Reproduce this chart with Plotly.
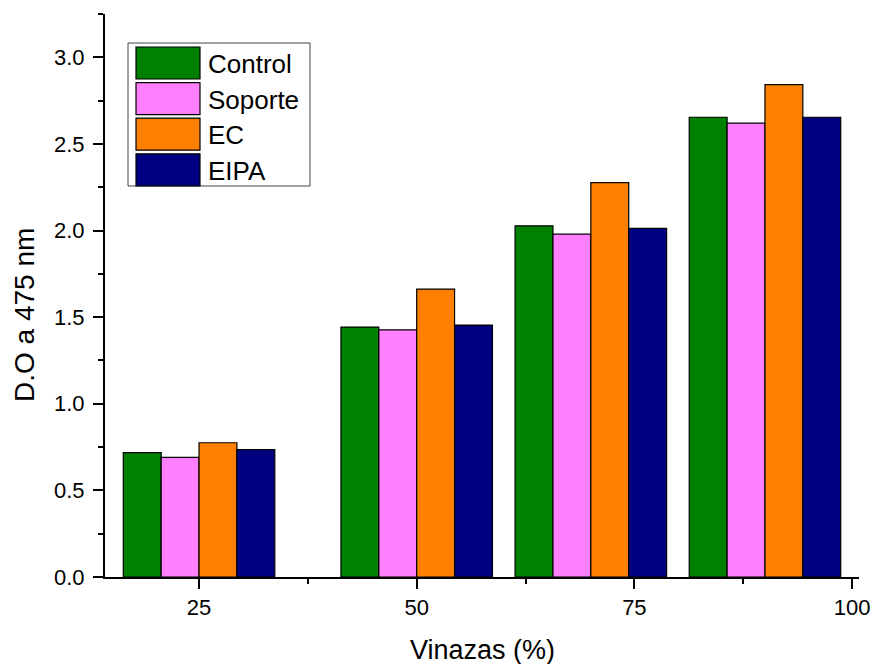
import plotly.graph_objects as go

# Vinasse concentration (%) for each group and optical density at 475 nm
vinazas = [25, 50, 70, 90]
control = [0.718, 1.443, 2.027, 2.654]
soporte = [0.690, 1.427, 1.979, 2.620]
ec = [0.775, 1.662, 2.277, 2.842]
eipa = [0.735, 1.454, 2.012, 2.654]

series_names = ["Control", "Soporte", "EC", "EIPA"]
series_values = [control, soporte, ec, eipa]
series_colors = ["#008000", "#FF80FF", "#FF8000", "#000080"]

FONT = "Liberation Sans, Arial, sans-serif"
W, H = 874, 664
L, R, T, B = 105, 15, 14, 87

fig = go.Figure()
for name, vals, col in zip(series_names, series_values, series_colors):
    fig.add_trace(go.Bar(
        x=vinazas, y=vals, name=name,
        marker=dict(color=col, line=dict(color="black", width=1.2)),
        showlegend=False,
    ))

# pixel -> paper helpers for the hand-built legend box
pw, ph = W - L - R, H - T - B
def px(x):
    return (x - L) / pw
def py(y):
    return (H - B - y) / ph

shapes = [dict(type="rect", xref="paper", yref="paper",
               x0=px(128), x1=px(310), y0=py(186), y1=py(43),
               line=dict(color="#444", width=1), fillcolor="white", layer="above")]
annotations = []
row_h = 35.6
for i, (name, col) in enumerate(zip(series_names, series_colors)):
    cy = 63 + i * row_h
    shapes.append(dict(type="rect", xref="paper", yref="paper",
                       x0=px(136), x1=px(200), y0=py(cy + 16), y1=py(cy - 16),
                       line=dict(color="black", width=1.2), fillcolor=col, layer="above"))
    annotations.append(dict(xref="paper", yref="paper", x=px(206), y=py(cy + 1),
                            text=name, showarrow=False, xanchor="left", yanchor="middle",
                            font=dict(family=FONT, size=26, color="black")))

annotations.append(dict(xref="paper", yref="paper", x=px(24), y=py(315),
                        text="D.O a 475 nm", textangle=-90, showarrow=False,
                        xanchor="center", yanchor="middle",
                        font=dict(family=FONT, size=28, color="black")))
annotations.append(dict(xref="paper", yref="paper", x=px(482), y=py(650),
                        text="Vinazas (%)", showarrow=False,
                        xanchor="center", yanchor="middle",
                        font=dict(family=FONT, size=27, color="black")))

fig.update_layout(
    width=W, height=H,
    margin=dict(l=L, r=R, t=T, b=B),
    paper_bgcolor="white", plot_bgcolor="white",
    barmode="group", bargap=0.13, bargroupgap=0,
    shapes=shapes, annotations=annotations,
    font=dict(family=FONT, color="black"),
)
fig.update_xaxes(
    range=[14.2, 100.8], tickmode="linear", tick0=0, dtick=25, automargin=False,
    showgrid=False, zeroline=False, showline=True, linecolor="black", linewidth=2,
    ticks="outside", ticklen=10, tickwidth=2, tickcolor="black",
    tickfont=dict(family=FONT, size=22, color="black"),
    minor=dict(ticks="outside", ticklen=5, tickwidth=2, tickcolor="black", dtick=12.5, tick0=0),
)
fig.update_yaxes(
    range=[0, 3.25], tickmode="linear", tick0=0, dtick=0.5, tickformat=".1f", automargin=False,
    showgrid=False, zeroline=False, showline=True, linecolor="black", linewidth=2,
    ticks="outside", ticklen=10, tickwidth=2, tickcolor="black",
    tickfont=dict(family=FONT, size=22, color="black"), ticklabelstandoff=4,
    minor=dict(ticks="outside", ticklen=5, tickwidth=2, tickcolor="black", dtick=0.25, tick0=0),
)

fig.write_html("out.html")
